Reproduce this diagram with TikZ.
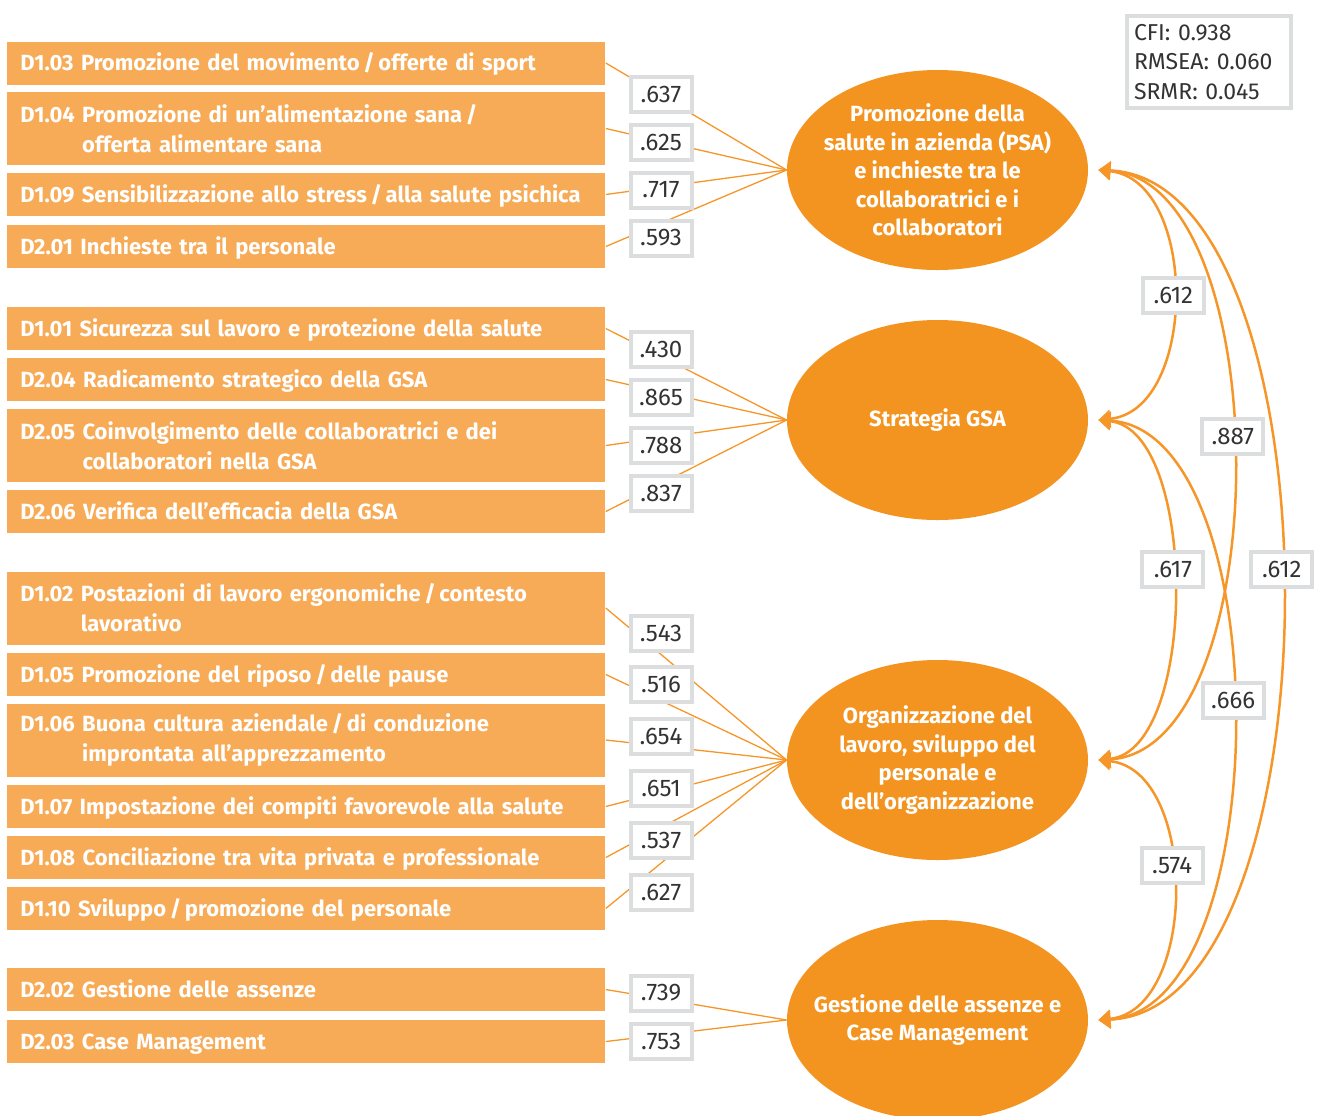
\documentclass[tikz,border=0pt]{standalone}
\usepackage{fontspec}
\setmainfont{Fira Sans}
\usetikzlibrary{arrows.meta,positioning,shapes.geometric}

\definecolor{itemorange}{RGB}{247,171,87}
\definecolor{latentorange}{RGB}{244,148,32}
\definecolor{lineorange}{RGB}{246,150,40}
\definecolor{boxgray}{RGB}{220,221,222}
\definecolor{numgray}{RGB}{51,51,51}

\tikzset{
  itembox/.style={fill=itemorange, text=white, anchor=west, align=left,
    font=\bfseries\fontsize{11}{15}\selectfont,
    minimum width=299pt, text width=286pt, inner xsep=6.5pt},
  indicator/.style={itembox, minimum height=21.5pt, text height=10pt, text depth=2.5pt},
  twoline/.style={itembox, minimum height=36.5pt},
  latent/.style={ellipse, fill=latentorange, minimum width=150.5pt, minimum height=100pt, inner sep=0pt},
  latenttext/.style={text=white, align=center, font=\bfseries\fontsize{11}{14.3}\selectfont},
  numlbl/.style={draw=boxgray, line width=2pt, fill=white, text=numgray,
    minimum width=30.5pt, minimum height=17.5pt, inner sep=0pt, font=\fontsize{12}{14}\selectfont},
  load/.style={draw=lineorange, line width=0.65pt},
  corr/.style={draw=lineorange, line width=1.25pt, >={Triangle[width=9pt,length=6pt]}, <->}
}

\begin{document}
\begin{tikzpicture}[x=0.5pt, y=-0.5pt]
  \useasboundingbox (0,0) rectangle (1317,1115);

  % Indicatori
  \node[indicator] (d103) at (7,63) {D1.03 Promozione del movimento\,/\,offerte di sport};
  \node[twoline] (d104) at (7,128.5) {D1.04 Promozione di un'alimentazione sana\,/\\\phantom{D1.04}\ offerta alimentare sana};
  \node[indicator] (d109) at (7,194.5) {D1.09 Sensibilizzazione allo stress\,/\,alla salute psichica};
  \node[indicator] (d201) at (7,246.5) {D2.01 Inchieste tra il personale};

  \node[indicator] (d101) at (7,328.5) {D1.01 Sicurezza sul lavoro e protezione della salute};
  \node[indicator] (d204) at (7,379.5) {D2.04 Radicamento strategico della GSA};
  \node[twoline] (d205) at (7,445.5) {D2.05 Coinvolgimento delle collaboratrici e dei\\\phantom{D2.05}\ collaboratori nella GSA};
  \node[indicator] (d206) at (7,511.5) {D2.06 Verifica dell'efficacia della GSA};

  \node[twoline] (d102) at (7,608) {D1.02 Postazioni di lavoro ergonomiche\,/\,contesto\\\phantom{D1.02}\ lavorativo};
  \node[indicator] (d105) at (7,674.5) {D1.05 Promozione del riposo\,/\,delle pause};
  \node[twoline] (d106) at (7,740) {D1.06 Buona cultura aziendale\,/\,di conduzione\\\phantom{D1.06}\ improntata all'apprezzamento};
  \node[indicator] (d107) at (7,806.5) {D1.07 Impostazione dei compiti favorevole alla salute};
  \node[indicator] (d108) at (7,857.5) {D1.08 Conciliazione tra vita privata e professionale};
  \node[indicator] (d110) at (7,908.5) {D1.10 Sviluppo\,/\,promozione del personale};

  \node[indicator] (d202) at (7,989.5) {D2.02 Gestione delle assenze};
  \node[indicator] (d203) at (7,1041.5) {D2.03 Case Management};

  % Fattori latenti
  \node[latent] (e1) at (937.5,170) {};
  \node[latent] (e2) at (937.5,420) {};
  \node[latent] (e3) at (937.5,760) {};
  \node[latent] (e4) at (937.5,1020) {};
  \node[latenttext] at (e1) {Promozione della\\salute in azienda (PSA)\\e inchieste tra le\\collaboratrici e i\\collaboratori};
  \node[latenttext] at (e2) {Strategia GSA};
  \node[latenttext] at (e3) {Organizzazione del\\lavoro, sviluppo del\\personale e\\dell'organizzazione};
  \node[latenttext] at (e4) {Gestione delle assenze e\\Case Management};

  % Saturazioni
  \foreach \d in {d103,d104,d109,d201} \draw[load] (\d.east) -- (e1.west);
  \foreach \d in {d101,d204,d205,d206} \draw[load] (\d.east) -- (e2.west);
  \foreach \d in {d102,d105,d106,d107,d108,d110} \draw[load] (\d.east) -- (e3.west);
  \foreach \d in {d202,d203} \draw[load] (\d.east) -- (e4.west);

  \node[numlbl] (l103) at (661,94) {.637};
  \node[numlbl] (l104) at (661,142) {.625};
  \node[numlbl] (l109) at (661,190) {.717};
  \node[numlbl] (l201) at (661,238) {.593};
  \node[numlbl] (l101) at (661,349) {.430};
  \node[numlbl] (l204) at (661,397) {.865};
  \node[numlbl] (l205) at (661,445) {.788};
  \node[numlbl] (l206) at (661,493) {.837};
  \node[numlbl] (l102) at (661,633) {.543};
  \node[numlbl] (l105) at (661,684) {.516};
  \node[numlbl] (l106) at (661,736) {.654};
  \node[numlbl] (l107) at (661,788) {.651};
  \node[numlbl] (l108) at (661,840) {.537};
  \node[numlbl] (l110) at (661,892) {.627};
  \node[numlbl] (l202) at (661,993) {.739};
  \node[numlbl] (l203) at (661,1041) {.753};

  % Correlazioni
  \coordinate (t1) at ([xshift=5pt]e1.east);
  \coordinate (t2) at ([xshift=5pt]e2.east);
  \coordinate (t3) at ([xshift=5pt]e3.east);
  \coordinate (t4) at ([xshift=5pt]e4.east);
  \draw[corr] (t1) .. controls +(245,10) and +(245,-10) .. (t4) node[numlbl, pos=.48] (c14) {.612};
  \draw[corr] (t1) .. controls +(180,10) and +(180,-10) .. (t3) node[numlbl, pos=.467] (c13) {.887};
  \draw[corr] (t2) .. controls +(180,10) and +(180,-10) .. (t4) node[numlbl, pos=.478] (c24) {.666};
  \draw[corr] (t1) .. controls +(100,10) and +(100,-10) .. (t2) node[numlbl, pos=.5] (c12) {.612};
  \draw[corr] (t2) .. controls +(100,10) and +(100,-10) .. (t3) node[numlbl, pos=.458] (c23) {.617};
  \draw[corr] (t3) .. controls +(100,10) and +(100,-10) .. (t4) node[numlbl, pos=.433] (c34) {.574};

  % Indici di adattamento
  \node[numlbl, anchor=north west, align=left, minimum width=82pt, minimum height=46pt,
    inner xsep=3.5pt, text width=75pt, font=\fontsize{11.5}{14.75}\selectfont] (fit) at (1125,14)
    {CFI: 0.938\\RMSEA: 0.060\\SRMR: 0.045};
\end{tikzpicture}
\end{document}
